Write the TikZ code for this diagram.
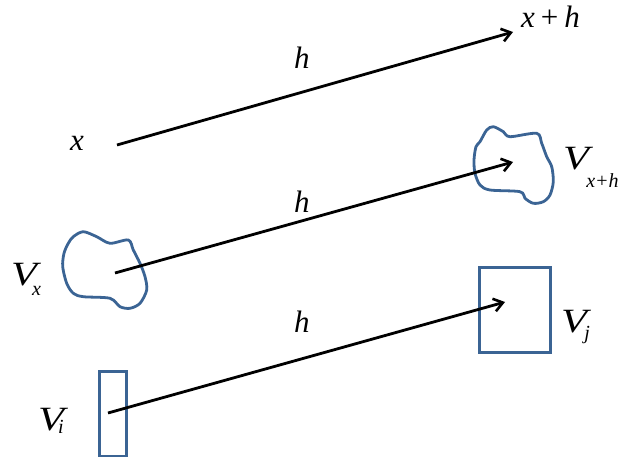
\documentclass[tikz,border=0pt]{standalone}
\usepackage{fontspec}
\setmainfont{Liberation Serif}
\usetikzlibrary{arrows.meta}
\definecolor{blobblue}{HTML}{3B6494}
\tikzset{
  vec/.style={line width=2.8pt, -{Straight Barb[length=9pt,width=13pt,line width=2.6pt]}},
  region/.style={draw=blobblue, line width=2.8pt},
  lbl/.style={inner sep=0pt, anchor=base west, font=\fontsize{31}{36}\selectfont},
}
\newcommand{\subsc}[2]{\raisebox{#1}{\fontsize{20}{22}\selectfont\textit{#2}}}
\newcommand{\bigV}{\scalebox{1.25}[1]{\fontsize{34}{38}\selectfont\textit{V}}}
\begin{document}
\begin{tikzpicture}[x=1pt,y=-1pt]
\useasboundingbox (0,0) rectangle (618,457);
% top arrow
\coordinate (a1) at (117,145);
\coordinate (b1) at (513,32);
\draw[vec] (a1) -- (b1);
\node[lbl] (xlab) at (70,151) {\textit{x}};
\node[lbl] (xh) at (521,28) {\textit{x}\hspace{6pt}+\hspace{6pt}\textit{h}};
\node[lbl] (h1) at (294,69) {\textit{h}};
% blobs
\draw[region] plot[smooth cycle, tension=0.5] coordinates {
 (486.7,130) (493.3,126.7) (503.3,131.7) (510,136.7) (536.7,133.3) (541.7,143.3)
 (546.7,156.7) (551.7,166.7) (553.3,181.7) (550,195) (543.3,201.7) (533.3,203.3)
 (525,198.3) (520,191.7) (490,190) (480,185) (475,173.3) (474,160) (476,146.7) (480,141.7)};
\draw[region] plot[smooth cycle, tension=0.5] coordinates {
 (73.3,236.7) (83.3,231.7) (96.7,236.7) (110,243.3) (128.3,240) (133.3,250)
 (140,263.3) (145,276.7) (146.7,290) (140,303.3) (130,308.3) (120,306.7)
 (110,298.3) (83.3,296.7) (73.3,293.3) (66.7,283.3) (62.7,266.7) (64,253.3) (68.3,243.3)};
\coordinate (a2) at (115,273);
\coordinate (b2) at (513,162);
\draw[vec] (a2) -- (b2);
\node[lbl] (h2) at (294,212) {\textit{h}};
\node[lbl] (vx) at (11,285) {\bigV\hspace{-9pt}\subsc{-10pt}{x}};
\node[lbl] (vxh) at (563,170) {\bigV\hspace{-7pt}\subsc{-18pt}{x+h}};
% rectangles
\node[region, draw, minimum width=26.7pt, minimum height=85pt, inner sep=0pt, anchor=north west] (ri) at (98.3,370) {};
\node[region, draw, minimum width=71pt, minimum height=84.7pt, inner sep=0pt, anchor=north west] (rj) at (478.3,266) {};
\coordinate (a3) at (108,413);
\coordinate (b3) at (505,302);
\draw[vec] (a3) -- (b3);
\node[lbl] (h3) at (294,332) {\textit{h}};
\node[lbl] (vi) at (38,430) {\bigV\hspace{-10pt}\subsc{-3pt}{i}};
\node[lbl] (vj) at (561,332) {\bigV\hspace{-7pt}\subsc{-7pt}{j}};
\end{tikzpicture}
\end{document}
